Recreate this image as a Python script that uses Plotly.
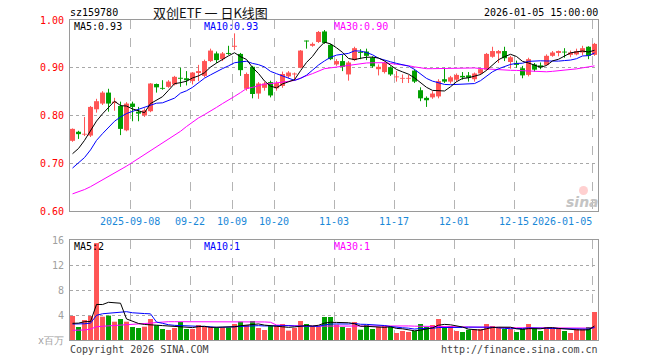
import plotly.graph_objects as go
import pandas as pd

# ---------------- data ----------------
opens = [0.747,0.766,0.760,0.758,0.813,0.825,0.848,0.826,0.820,0.769,
         0.825,0.808,0.800,0.809,0.866,0.857,0.860,0.865,0.879,0.878,
         0.872,0.889,0.883,0.914,0.930,0.918,0.931,0.944,0.929,0.856,
         0.902,0.846,0.858,0.870,0.857,0.862,0.882,0.886,0.900,0.957,
         0.946,0.954,0.976,0.948,0.907,0.914,0.886,0.916,0.932,0.934,
         0.921,0.897,0.891,0.901,0.880,0.877,0.877,0.894,0.853,0.837,
         0.838,0.840,0.876,0.871,0.875,0.883,0.884,0.876,0.888,0.896,
         0.923,0.930,0.935,0.912,0.910,0.899,0.885,0.907,0.905,0.906,
         0.925,0.931,0.933,0.927,0.928,0.932,0.944,0.927]
highs = [0.773,0.768,0.797,0.820,0.835,0.851,0.856,0.837,0.829,0.828,
         0.829,0.818,0.815,0.868,0.867,0.874,0.874,0.883,0.900,0.893,
         0.891,0.906,0.917,0.940,0.934,0.933,0.946,0.972,0.931,0.890,
         0.904,0.870,0.871,0.873,0.872,0.892,0.893,0.890,0.937,0.957,
         0.953,0.977,0.979,0.950,0.918,0.927,0.914,0.944,0.939,0.940,
         0.924,0.907,0.913,0.903,0.893,0.886,0.885,0.897,0.859,0.840,
         0.851,0.876,0.900,0.883,0.888,0.891,0.891,0.890,0.899,0.931,
         0.944,0.937,0.944,0.925,0.915,0.904,0.921,0.910,0.911,0.928,
         0.935,0.936,0.941,0.936,0.940,0.946,0.945,0.952]
lows = [0.745,0.751,0.757,0.755,0.806,0.822,0.808,0.810,0.759,0.767,
        0.788,0.788,0.797,0.807,0.848,0.854,0.858,0.863,0.860,0.863,
        0.865,0.872,0.880,0.912,0.910,0.914,0.927,0.937,0.883,0.852,
        0.836,0.835,0.852,0.838,0.852,0.858,0.878,0.873,0.899,0.940,
        0.944,0.952,0.950,0.916,0.904,0.893,0.873,0.914,0.918,0.916,
        0.900,0.884,0.888,0.883,0.871,0.868,0.868,0.868,0.830,0.818,
        0.835,0.836,0.868,0.867,0.871,0.875,0.871,0.871,0.885,0.894,
        0.921,0.910,0.914,0.898,0.900,0.878,0.882,0.892,0.897,0.905,
        0.923,0.924,0.921,0.922,0.926,0.926,0.918,0.925]
closes = [0.772,0.761,0.761,0.818,0.830,0.848,0.825,0.829,0.772,0.825,
          0.818,0.804,0.811,0.867,0.859,0.856,0.871,0.881,0.877,0.874,
          0.890,0.893,0.914,0.936,0.916,0.930,0.929,0.946,0.895,0.887,
          0.845,0.867,0.867,0.842,0.868,0.887,0.890,0.888,0.936,0.955,
          0.950,0.975,0.952,0.918,0.914,0.902,0.911,0.941,0.931,0.925,
          0.903,0.902,0.910,0.886,0.881,0.878,0.878,0.871,0.836,0.832,
          0.846,0.872,0.871,0.880,0.885,0.880,0.879,0.888,0.897,0.929,
          0.935,0.935,0.920,0.922,0.906,0.884,0.918,0.896,0.901,0.925,
          0.932,0.935,0.932,0.932,0.935,0.941,0.925,0.950]
volumes = [3.84,2.08,3.20,3.84,15.5,3.73,3.90,2.93,3.36,2.93,
           2.08,1.92,2.13,3.36,2.35,1.76,1.60,1.92,2.88,1.76,
           1.76,2.40,2.08,2.10,1.92,2.00,2.00,2.56,2.93,2.40,
           3.04,1.92,1.60,2.24,2.24,2.56,1.50,1.92,3.04,2.56,
           2.13,2.13,3.68,3.68,2.45,2.08,1.92,2.88,1.65,2.40,
           1.76,2.08,2.24,2.08,1.12,1.44,1.28,1.44,2.56,2.08,
           2.40,3.36,2.08,2.24,1.44,1.28,1.65,1.76,1.76,2.56,
           2.24,1.92,1.76,1.76,1.28,1.76,2.56,1.92,1.44,2.08,
           1.92,1.92,1.44,1.12,1.76,1.76,2.08,4.48]

# moving-average values at the start of the window (history before the first candle)
ma5_lead = [0.720,0.731,0.748,0.768]
ma10_lead = [0.690,0.700,0.712,0.728,0.748,0.762,0.775,0.788,0.797]
ma30_lead = [0.636,0.640,0.645,0.651,0.658,0.665,0.672,0.679,0.686,0.694,
             0.702,0.710,0.718,0.726,0.734,0.742,0.750,0.758,0.767,0.777,
             0.787,0.795,0.802,0.809,0.817,0.825,0.832,0.840,0.848]
vma5_lead = [2.67,2.70,2.93,2.95]
vma10_lead = [2.56,2.56,2.60,2.70,3.95,4.20,4.30,4.45,4.50]
vma30_lead = [1.55,1.55,1.60,1.75,2.13,2.20,2.25,2.30,2.38,2.42,
              2.48,2.55,2.60,2.70,2.80,2.90,2.93,2.93,2.93,2.93,
              2.93,2.93,2.93,2.93,2.93,2.95,3.00,3.00,3.00]

tick_index = [10, 20, 27, 34, 44, 54, 64, 74, 87]
tick_labels = ["2025-09-08", "09-22", "10-09", "10-20", "11-03",
               "11-17", "12-01", "12-15", "2026-01-05"]
price_ticks = [0.60, 0.70, 0.80, 0.90, 1.00]
price_tick_text = ["0.60", "0.70", "0.80", "0.90", "1.00"]
vol_ticks = [0, 4, 8, 12, 16]
vol_tick_text = ["x百万", "4", "8", "12", "16"]

# ---------------- styling ----------------
UP = "#ff5555"
DOWN = "#009f00"
MONO = "DejaVu Sans Mono"
n = len(closes)
idx = list(range(n))


def moving(values, window, lead):
    out = pd.Series(values).rolling(window).mean().tolist()
    for k, v in enumerate(lead):
        out[k] = v
    return out


ma5 = moving(closes, 5, ma5_lead)
ma10 = moving(closes, 10, ma10_lead)
ma30 = moving(closes, 30, ma30_lead)
vma5 = moving(volumes, 5, vma5_lead)
vma10 = moving(volumes, 10, vma10_lead)
vma30 = moving(volumes, 30, vma30_lead)

colors = [UP if c >= o else DOWN for o, c in zip(opens, closes)]

fig = go.Figure()

# wicks
for col in (UP, DOWN):
    wx, wy = [], []
    for i in idx:
        if colors[i] == col:
            wx += [i, i, None]
            wy += [lows[i], highs[i], None]
    fig.add_trace(go.Scatter(x=wx, y=wy, mode="lines",
                             line=dict(color=col, width=1),
                             xaxis="x", yaxis="y", hoverinfo="skip"))

# bodies
fig.add_trace(go.Bar(
    x=idx,
    y=[max(abs(c - o), 0.0018) for o, c in zip(opens, closes)],
    base=[min(o, c) for o, c in zip(opens, closes)],
    width=0.83, marker=dict(color=colors, line=dict(width=0)),
    xaxis="x", yaxis="y", hoverinfo="skip"))

for vals, col in ((ma30, "#ff00ff"), (ma10, "#0000ff"), (ma5, "#000000")):
    fig.add_trace(go.Scatter(x=idx, y=vals, mode="lines",
                             line=dict(color=col, width=1),
                             xaxis="x", yaxis="y", hoverinfo="skip"))

# volume
fig.add_trace(go.Bar(x=idx, y=volumes, width=0.83,
                     marker=dict(color=colors, line=dict(width=0)),
                     xaxis="x2", yaxis="y2", hoverinfo="skip"))
for vals, col in ((vma30, "#ff00ff"), (vma10, "#0000ff"), (vma5, "#000000")):
    fig.add_trace(go.Scatter(x=idx, y=vals, mode="lines",
                             line=dict(color=col, width=1),
                             xaxis="x2", yaxis="y2", hoverinfo="skip"))

grid_x = [t - 0.42 for t in tick_index]
xcommon = dict(range=[-0.42, 87.58], tickmode="array", tickvals=grid_x,
               showticklabels=False, ticks="", showgrid=True,
               gridcolor="#b4b4b4", griddash="dash", gridwidth=1,
               showline=True, mirror=True, linecolor="#9a9a9a", linewidth=1,
               zeroline=False, fixedrange=True)

fig.update_layout(
    width=660, height=360,
    margin=dict(l=70, r=62, t=20, b=20),
    paper_bgcolor="white", plot_bgcolor="white",
    showlegend=False, barmode="overlay", hovermode=False,
    font=dict(family=MONO, size=10, color="#000"),
    xaxis=dict(**xcommon, anchor="y"),
    xaxis2=dict(**xcommon, anchor="y2"),
    yaxis=dict(domain=[0.403, 1.0], range=[0.60, 1.00], tickmode="array",
               tickvals=price_ticks, ticktext=price_tick_text,
               tickfont=dict(family=MONO, size=10, color="#ff0000"),
               ticks="", ticklabelstandoff=3,
               showgrid=True, gridcolor="#a8a8a8", griddash="dot",
               showline=True, mirror=True, linecolor="#9a9a9a",
               zeroline=False, fixedrange=True),
    yaxis2=dict(domain=[0.0, 0.3125], range=[0, 16], tickmode="array",
                tickvals=vol_ticks, ticktext=vol_tick_text,
                tickfont=dict(family=MONO, size=10, color="#a0a0a0"),
                ticks="", ticklabelstandoff=3,
                showgrid=True, gridcolor="#a8a8a8", griddash="dot",
                showline=True, mirror=True, linecolor="#9a9a9a",
                zeroline=False, fixedrange=True),
)


def px_x(p):
    return (p - 70) / 528.0


def px_y(p):
    return (340 - p) / 320.0


ann = []
ann.append(dict(text="sz159780", x=px_x(69), y=px_y(13), xanchor="left",
                font=dict(family=MONO, size=10, color="#000")))
ann.append(dict(text="双创ETF 一 日K线图", x=px_x(210), y=px_y(12.5),
                xanchor="center",
                font=dict(family="Noto Sans CJK SC", size=13, color="#111")))
ann.append(dict(text="2026-01-05 15:00:00", x=px_x(599), y=px_y(13),
                xanchor="right", font=dict(family=MONO, size=10, color="#000")))
ann.append(dict(text="MA5:0.93", x=px_x(73), y=px_y(26.5), xanchor="left",
                font=dict(family=MONO, size=10, color="#000")))
ann.append(dict(text="MA10:0.93", x=px_x(203), y=px_y(26.5), xanchor="left",
                font=dict(family=MONO, size=10, color="#0000ff")))
ann.append(dict(text="MA30:0.90", x=px_x(333), y=px_y(26.5), xanchor="left",
                font=dict(family=MONO, size=10, color="#ff00ff")))
ann.append(dict(text="MA5:2", x=px_x(73), y=px_y(246.5), xanchor="left",
                font=dict(family=MONO, size=10, color="#000")))
ann.append(dict(text="MA10:1", x=px_x(203), y=px_y(246.5), xanchor="left",
                font=dict(family=MONO, size=10, color="#0000ff")))
ann.append(dict(text="MA30:1", x=px_x(333), y=px_y(246.5), xanchor="left",
                font=dict(family=MONO, size=10, color="#ff00ff")))
ann.append(dict(text="Copyright 2026 SINA.COM", x=px_x(69), y=px_y(349),
                xanchor="left", font=dict(family=MONO, size=10, color="#444")))
ann.append(dict(text="http://finance.sina.com.cn", x=px_x(599), y=px_y(349),
                xanchor="right", font=dict(family=MONO, size=10, color="#444")))
ann.append(dict(text="<b><i>sina</i></b>", x=px_x(582), y=px_y(202),
                xanchor="center",
                font=dict(family="DejaVu Sans", size=14, color="#c4c4c4")))
for k, (ti, tl) in enumerate(zip(tick_index, tick_labels)):
    last = k == len(tick_index) - 1
    ann.append(dict(text=tl, x=ti - 0.42 + (0.1 if last else 0), xref="x",
                    y=px_y(221), yref="paper",
                    xanchor="right" if last else "center",
                    font=dict(family=MONO, size=10, color="#1a88d8")))
for a in ann:
    a.setdefault("xref", "paper")
    a.setdefault("yref", "paper")
    a["showarrow"] = False
    a["yanchor"] = "middle"
    a["borderpad"] = 0
fig.update_layout(annotations=ann)

fig.add_shape(type="circle", xref="paper", yref="paper",
              x0=px_x(579), x1=px_x(588), y0=px_y(195), y1=px_y(186),
              fillcolor="rgba(255,120,120,0.35)", line=dict(width=0))

fig.write_html("out.html",
               config={"displayModeBar": False, "staticPlot": True},
               post_script="document.body.style.margin='0px';"
                           "document.body.style.overflow='hidden';")
